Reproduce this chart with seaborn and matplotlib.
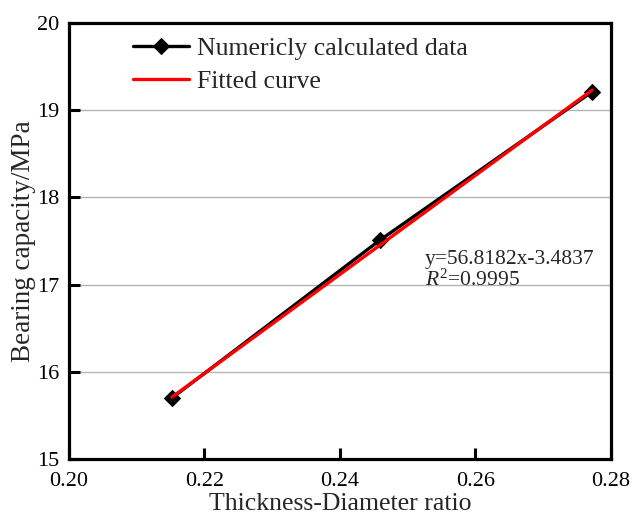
import matplotlib
matplotlib.use("Agg")
import matplotlib.pyplot as plt
import seaborn as sns
import pandas as pd

# Data
ratio = [0.2152, 0.2459, 0.2772]
capacity = [15.70, 17.51, 19.21]
fit_x = [0.2152, 0.2772]
fit_y = [15.71, 19.23]
equation_text = "y=56.8182x-3.4837"
r2_text = "$R^2$=0.9995"
x_ticks = [0.20, 0.22, 0.24, 0.26, 0.28]
y_ticks = [15, 16, 17, 18, 19, 20]

sns.set_style("ticks")
plt.rcParams["font.family"] = ["Liberation Serif", "DejaVu Serif"]
plt.rcParams["mathtext.fontset"] = "custom"
plt.rcParams["mathtext.rm"] = "Liberation Serif"
plt.rcParams["mathtext.it"] = "Liberation Serif:italic"

W, H = 633, 518
fig = plt.figure(figsize=(W / 100, H / 100), dpi=100)
left, right, top, bottom = 69, 611, 23, 459
ax = fig.add_axes([left / W, 1 - bottom / H, (right - left) / W, (bottom - top) / H])

df = pd.DataFrame({"x": ratio, "y": capacity})
dff = pd.DataFrame({"x": fit_x, "y": fit_y})
sns.lineplot(data=df, x="x", y="y", ax=ax, color="black", lw=2.4,
             marker="D", markersize=8, markeredgecolor="black",
             label="Numericly calculated data", zorder=3)
sns.lineplot(data=dff, x="x", y="y", ax=ax, color="#ff0000", lw=2.4,
             label="Fitted curve", zorder=4)

ax.set_xlim(0.20, 0.28)
ax.set_ylim(15, 20)
ax.set_xticks(x_ticks)
ax.set_yticks(y_ticks)
ax.set_xticklabels([f"{v:.2f}" for v in x_ticks])
ax.set_yticklabels([str(v) for v in y_ticks])
ax.yaxis.grid(True, color="#b4b4b4", lw=1)
ax.set_axisbelow(True)
ax.tick_params(direction="in", length=8, width=2.2, labelsize=16,
               colors="black")
ax.tick_params(axis="x", pad=9)
ax.tick_params(axis="y", pad=7)
for s in ax.spines.values():
    s.set_linewidth(2.3)
    s.set_color("black")

ax.set_xlabel("Thickness-Diameter ratio", fontsize=18.5, va="top")
ax.set_ylabel("Bearing capacity/MPa", fontsize=19.5)
ax.xaxis.set_label_coords(0.5, -0.079)
ax.yaxis.set_label_coords(-0.061, 0.5)

ax.text(0.2525, 17.235, equation_text, fontsize=15.5, ha="left", va="baseline")
ax.text(0.2525, 16.99, r2_text, fontsize=15.5, ha="left", va="baseline")

leg = ax.legend(loc="upper left", bbox_to_anchor=(0.118, 0.968), frameon=False,
                fontsize=18.5, handlelength=2.2, handletextpad=0.3,
                labelspacing=0.4, borderaxespad=0, borderpad=0)

fig.savefig("out.png", dpi=100)
